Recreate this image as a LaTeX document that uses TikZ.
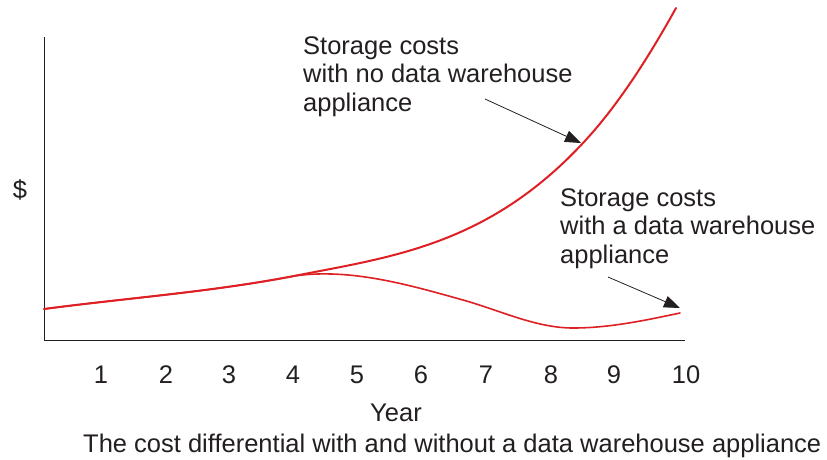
\documentclass[tikz,border=0pt]{standalone}
\usepackage{fontspec}
\setmainfont{Liberation Sans}
\usetikzlibrary{arrows.meta}
\definecolor{ink}{RGB}{35,31,32}
\definecolor{curvered}{RGB}{222,32,36}
\begin{document}
\begin{tikzpicture}[x=1pt,y=-1pt,
  lbl/.style={inner sep=0pt,text=ink,font=\fontsize{25.5}{28.3}\selectfont},
  ml/.style={lbl,align=left,anchor=base west},
  axis/.style={draw=ink,line width=0.9pt},
  costline/.style={draw=curvered,line width=2pt,line join=round,line cap=round},
  pointer/.style={draw=ink,line width=0.8pt,-{Triangle[length=16pt,width=12pt]}}]
\useasboundingbox (0,0) rectangle (827,459);
% axes
\coordinate (ytop) at (44,37);
\coordinate (orig) at (44,340);
\coordinate (xend) at (685,340);
\draw[axis] (ytop) -- (orig) -- (xend);
% curves
\coordinate (c0) at (44,309);
\coordinate (split) at (294,276);
\coordinate (u1) at (583,143);
\coordinate (u2) at (676,8);
\coordinate (l1) at (463,300);
\coordinate (l2) at (573,328);
\coordinate (l3) at (680,313);
\draw[costline] (c0) .. controls (127,298) and (211,292) .. (split)
  .. controls (390,257) and (487,246) .. (u1)
  .. controls (614,110) and (645,64) .. (u2);
\draw[costline,line width=1.6pt] (c0) .. controls (127,298) and (211,292) .. (split)
  .. controls (350,268) and (407,284.3) .. (l1)
  .. controls (500,310.4) and (536,328) .. (l2)
  .. controls (609,328) and (644,320.6) .. (l3);
% tick labels
\foreach \n/\xx in {1/101,2/166,3/229,4/293,5/357,6/421,7/486,8/551,9/614,10/686}
  \node[lbl,anchor=base] (t\n) at (\xx,383) {\n};
\node[lbl,anchor=base] (year) at (396,421) {Year};
\node[lbl,anchor=base] (dollar) at (20,198) {\$};
\node[lbl,anchor=base west] (cap) at (83,452) {The cost differential with and without a data warehouse appliance};
% labels
\node[ml] (lab1) at (303,111) {Storage costs\\with no data warehouse\\appliance};
\node[ml] (lab2) at (560,263) {Storage costs\\with a data warehouse\\appliance};
% pointers
\coordinate (a1s) at (485,99);
\coordinate (a1e) at (581,143);
\coordinate (a2s) at (608,277);
\coordinate (a2e) at (680,308);
\draw[pointer] (a1s) -- (a1e);
\draw[pointer] (a2s) -- (a2e);
\end{tikzpicture}
\end{document}
